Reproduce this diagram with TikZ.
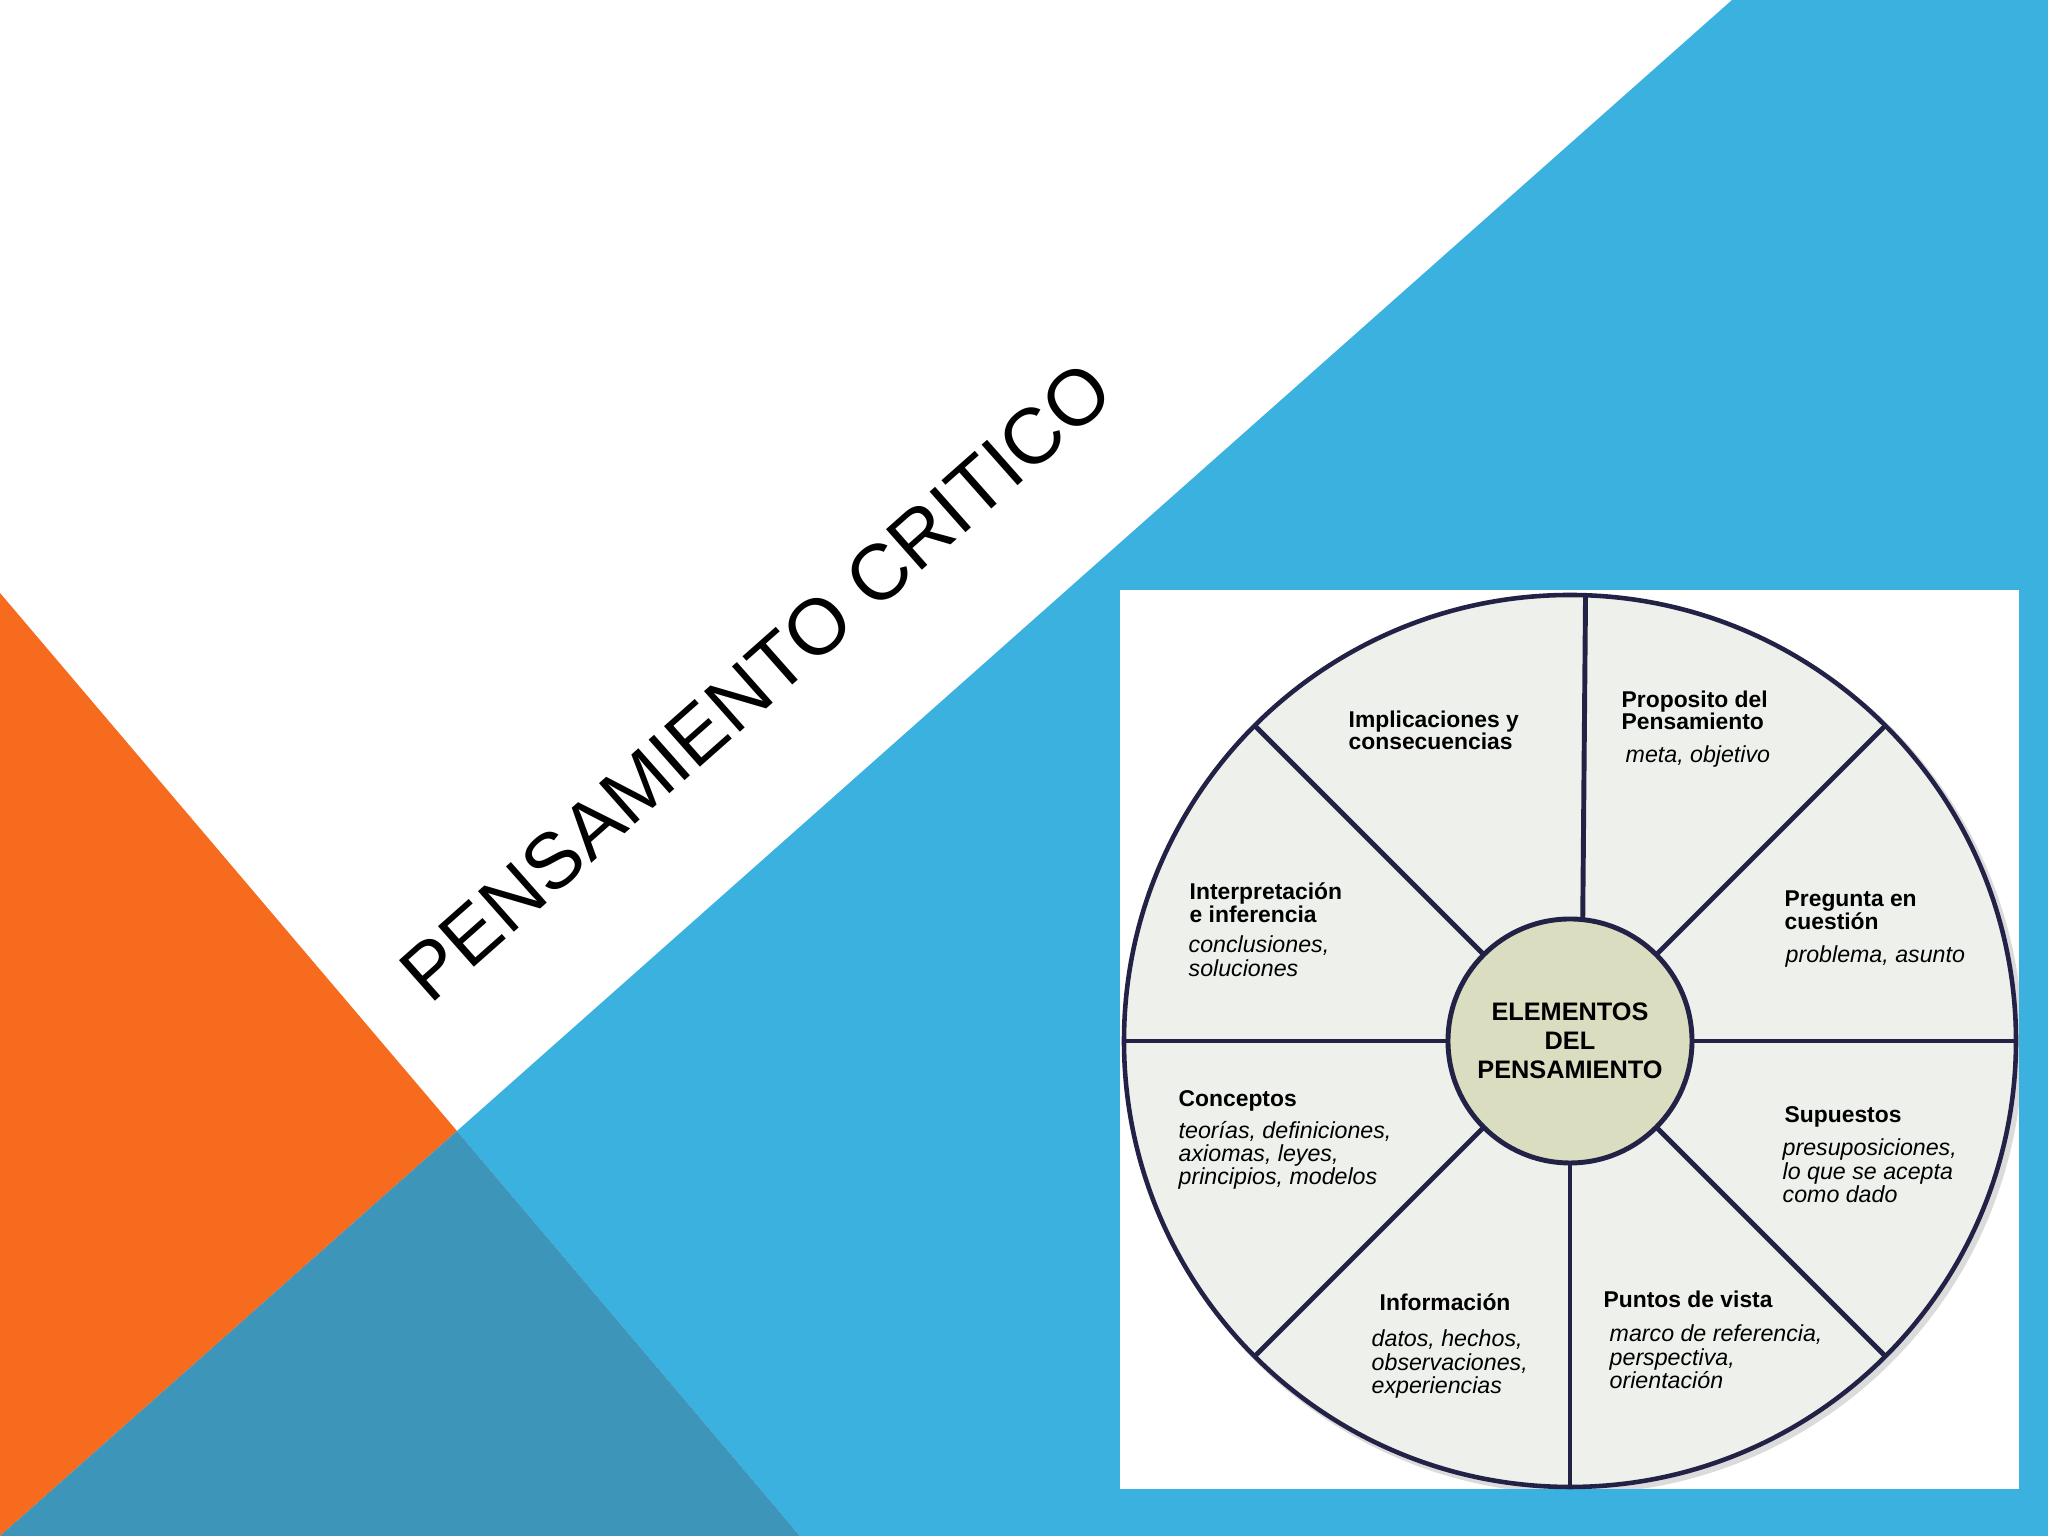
\documentclass[tikz,border=0pt]{standalone}
\usepackage{fontspec}
\setmainfont{Liberation Sans}
\usepackage{tikz}
\usetikzlibrary{positioning, shadows}
\usepackage{xcolor}

\definecolor{slideblue}{RGB}{59,177,224}
\definecolor{slideorange}{RGB}{247,107,30}
\definecolor{slideteal}{RGB}{61,150,185}
\definecolor{wheelline}{RGB}{34,34,70}
\definecolor{wheelfill}{RGB}{238,240,235}
\definecolor{hubfill}{RGB}{219,221,192}
\newcommand{\tightlines}{\lineskiplimit=-3pt\relax}

\begin{document}
\begin{tikzpicture}[
  head/.style={anchor=north west, inner sep=0pt, align=left, yshift=4.7pt,
    font=\fontsize{6.5}{6.3}\selectfont\bfseries\tightlines},
  desc/.style={anchor=north west, inner sep=0pt, align=left, yshift=4.7pt,
    font=\fontsize{6.6}{6.6}\selectfont\itshape\tightlines},
  spoke/.style={draw=wheelline, line width=1.4pt}
]

  % Slide background
  \useasboundingbox (0,0) rectangle (20.48,15.36);
  \fill[white] (0,0) rectangle (20.48,15.36);
  \coordinate (X) at (4.57,4.05);
  \fill[slideblue] (17.32,15.36) -- (20.48,15.36) -- (20.48,0) -- (8.00,0) -- (X) -- cycle;
  \fill[slideorange] (0,9.43) -- (X) -- (0,0) -- cycle;
  \fill[slideteal] (0,0) -- (X) -- (8.00,0) -- cycle;

  % Title
  \node[rotate=41.5, anchor=base, inner sep=0pt, font=\fontsize{22.4}{24}\selectfont] (title) at (7.74,8.34) {PENSAMIENTO CRITICO};

  % Picture frame
  \fill[white] (11.20,0.47) rectangle (20.19,9.46);

  % Wheel
  \begin{scope}
    \clip (11.20,0.47) rectangle (20.19,9.46);
    \fill[black!40, opacity=0.35] (15.74,4.91) circle (4.49);
  \end{scope}
  \node[circle, draw=wheelline, line width=1.3pt, fill=wheelfill, minimum size=8.92cm, inner sep=0pt, outer sep=0pt] (rim) at (15.70,4.95) {};
  \node[circle, draw=wheelline, line width=1.4pt, fill=hubfill, minimum size=2.44cm, inner sep=0pt, outer sep=0pt,
    align=center, font=\fontsize{7.2}{8.2}\selectfont\bfseries] (hub) at (15.70,4.95) {ELEMENTOS\\DEL\\PENSAMIENTO};
  \foreach \a/\b in {0/0, 45/45, 84/88.3, 135/135, 180/180, 225/225, 270/270, 315/315}{
    \draw[spoke] (hub.\a) -- (rim.\b);
  }

  % Sector labels
  \node[head] (impl) at (13.48,8.09) {Implicaciones y\\consecuencias};
  \node[head] (prop) at (16.21,8.29) {Proposito del\\Pensamiento};
  \node[desc] (propd) at (16.25,7.74) {meta, objetivo};
  \node[head] (preg) at (17.84,6.29) {Pregunta en\\cuestión};
  \node[desc] (pregd) at (17.85,5.74) {problema, asunto};
  \node[head] (inter) at (11.89,6.37) {Interpretación\\e inferencia};
  \node[desc] (interd) at (11.88,5.84) {conclusiones,\\soluciones};
  \node[head] (conc) at (11.78,4.30) {Conceptos};
  \node[desc] (concd) at (11.78,3.99) {teorías, definiciones,\\axiomas, leyes,\\principios, modelos};
  \node[head] (sup) at (17.84,4.14) {Supuestos};
  \node[desc] (supd) at (17.82,3.81) {presuposiciones,\\lo que se acepta\\como dado};
  \node[head] (info) at (13.79,2.26) {Información};
  \node[desc] (infod) at (13.71,1.90) {datos, hechos,\\observaciones,\\experiencias};
  \node[head] (punt) at (16.03,2.29) {Puntos de vista};
  \node[desc] (puntd) at (16.09,1.95) {marco de referencia,\\perspectiva,\\orientación};

\end{tikzpicture}
\end{document}
